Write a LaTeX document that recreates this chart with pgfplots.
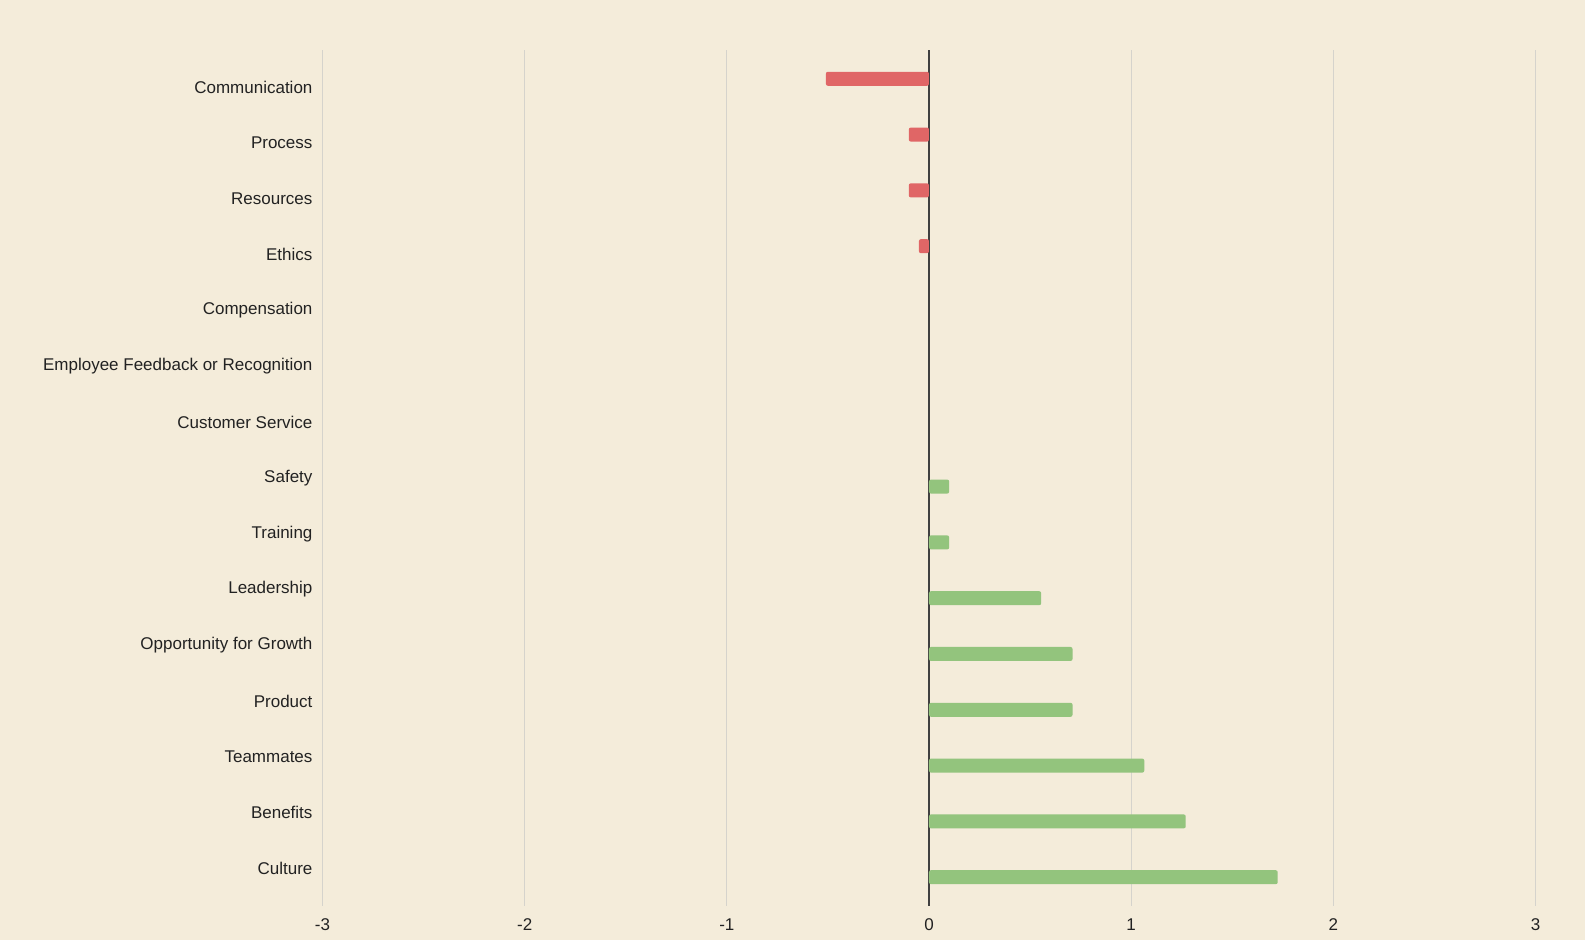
\documentclass[border=0pt]{standalone}
\usepackage{pgfplots}
\pgfplotsset{compat=1.18}
\usepackage{fontspec}
\setmainfont{Liberation Sans}
\definecolor{bg}{HTML}{F4ECDA}
\definecolor{redbar}{HTML}{E06666}
\definecolor{greenbar}{HTML}{93C47D}
\definecolor{gridc}{HTML}{D5D3CC}
\definecolor{txt}{HTML}{222222}
\begin{document}
\begin{tikzpicture}
\fill[bg] (0,0) rectangle (792.5pt,470pt);
\begin{axis}[
  at={(161.25pt,17pt)}, anchor=south west,
  scale only axis, width=606.5pt, height=428pt,
  xmin=-3, xmax=3, ymin=-0.67, ymax=14.67,
  axis line style={draw=none},
  xbar, bar width=7pt,
  xtick={-3,-2,-1,0,1,2,3},
  xticklabels={-3,-2,-1,0,1,2,3},
  ytick={0,...,14},
  yticklabels={Culture,Benefits,Teammates,Product,Opportunity for Growth,Leadership,Training,Safety,Customer Service,Employee Feedback or Recognition,Compensation,Ethics,Resources,Process,Communication},
  major tick length=0pt,
  tick style={draw=none},
  xmajorgrids, grid style={gridc, line width=0.6pt},
  extra x ticks={0}, extra x tick labels={},
  extra x tick style={grid style={black!75, line width=0.7pt}},
  tick label style={font=\fontsize{8.5}{10}\selectfont, text=txt},
  xticklabel style={yshift=-3pt},
  yticklabel style={xshift=-1.5pt},
  clip=false,
]
\addplot[fill=redbar, draw=none, bar shift=4.3pt, rounded corners=1pt] coordinates {
  (-0.51,14) (-0.10,13) (-0.10,12) (-0.05,11)
};
\addplot[fill=greenbar, draw=none, bar shift=-4.3pt, rounded corners=1pt] coordinates {
  (0.10,7) (0.10,6) (0.555,5) (0.71,4) (0.71,3) (1.065,2) (1.27,1) (1.725,0)
};
\end{axis}
\end{tikzpicture}
\end{document}
